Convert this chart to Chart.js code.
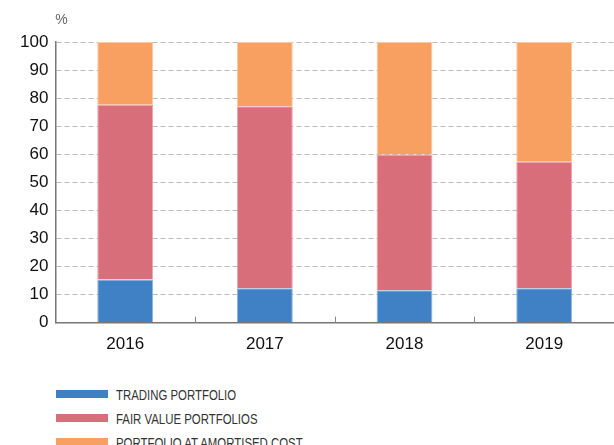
<!DOCTYPE html>
<html>
<head>
<meta charset="utf-8">
<script src="https://cdn.jsdelivr.net/npm/chart.js@4"></script>
<style>
  body { margin: 0; background: #fff; }
  #wrap { position: relative; width: 614px; height: 359px; }
  #legenda { position: absolute; left: 56px; top: 382px; font-family: "Liberation Sans", Arial, sans-serif; font-size: 15px; color: #333; }
  .item { display: flex; align-items: center; height: 24px; }
  .caixa { width: 52px; height: 8px; margin-right: 8px; flex: none; }
  .item span { display: inline-block; transform: scaleX(0.76); transform-origin: left center; white-space: nowrap; }
</style>
</head>
<body>
<div id="wrap"><canvas id="grafico"></canvas></div>
<div id="legenda"></div>
<script>
const anos = ['2016', '2017', '2018', '2019'];
const carteiraNegociacao = [15.4, 12.2, 11.5, 12.2];
const valorJusto = [62.2, 64.9, 48.4, 45.1];
const custoAmortizado = [22.4, 22.9, 40.1, 42.7];
const nomes = ['TRADING PORTFOLIO', 'FAIR VALUE PORTFOLIOS', 'PORTFOLIO AT AMORTISED COST'];
const cores = ['#4080C4', '#D96E7B', '#F8A062'];
const bordas = ['#8DB4E0', '#EBA3AC', '#FBC9A3'];

const marcasX = {
    id: 'marcasX',
    afterDraw(chart) {
        const ctx = chart.ctx;
        const x = chart.scales.x;
        const area = chart.chartArea;
        ctx.save();
        ctx.strokeStyle = '#888';
        ctx.lineWidth = 1;
        for (let i = 1; i < anos.length; i++) {
            const px = Math.round((x.getPixelForValue(i - 1) + x.getPixelForValue(i)) / 2) + 0.5;
            ctx.beginPath();
            ctx.moveTo(px, area.bottom);
            ctx.lineTo(px, area.bottom - 6);
            ctx.stroke();
        }
        ctx.fillStyle = '#666';
        ctx.font = '14px "Liberation Sans", Arial, sans-serif';
        ctx.textBaseline = 'middle';
        ctx.fillText('%', area.left, 20);
        ctx.restore();
    }
};

const dados = [carteiraNegociacao, valorJusto, custoAmortizado];

new Chart(document.getElementById('grafico'), {
    type: 'bar',
    data: {
        labels: anos,
        datasets: dados.map((d, i) => ({
            label: nomes[i],
            data: d,
            backgroundColor: cores[i],
            borderColor: bordas[i],
            borderWidth: 1,
            categoryPercentage: 0.4,
            barPercentage: 1
        }))
    },
    options: {
        responsive: true,
        maintainAspectRatio: false,
        animation: false,
        layout: { padding: { top: 42, right: 0, left: 13, bottom: 0 } },
        plugins: {
            legend: { display: false },
            tooltip: { enabled: false }
        },
        scales: {
            x: {
                stacked: true,
                grid: { display: false },
                border: { color: '#777', width: 1.5 },
                ticks: { color: '#111', font: { size: 17, family: '"Liberation Sans", Arial, sans-serif' }, padding: 4 }
            },
            y: {
                stacked: true,
                min: 0,
                max: 100,
                ticks: { stepSize: 10, color: '#111', padding: 7, font: { size: 17, family: '"Liberation Sans", Arial, sans-serif' } },
                grid: { color: '#BBB', drawTicks: false },
                border: { color: '#777', width: 1.5, dash: [5, 3] }
            }
        }
    },
    plugins: [marcasX]
});

const legenda = document.getElementById('legenda');
nomes.forEach((n, i) => {
    const item = document.createElement('div');
    item.className = 'item';
    item.innerHTML = '<div class="caixa" style="background:' + cores[i] + '"></div><span>' + n + '</span>';
    legenda.appendChild(item);
});
</script>
</body>
</html>
